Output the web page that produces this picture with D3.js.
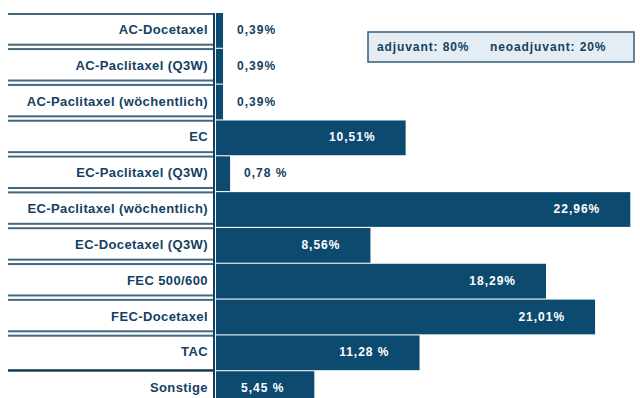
<!DOCTYPE html>
<html>
<head>
<meta charset="utf-8">
<script src="https://cdn.jsdelivr.net/npm/d3@7"></script>
<style>
  body { margin: 0; background: #fff; }
  svg { display: block; font-family: "Liberation Sans", Arial, sans-serif; }
</style>
</head>
<body>
<div id="chart"></div>
<script>
// regimen names, top to bottom
const categories = [
    "AC-Docetaxel",
    "AC-Paclitaxel (Q3W)",
    "AC-Paclitaxel (wöchentlich)",
    "EC",
    "EC-Paclitaxel (Q3W)",
    "EC-Paclitaxel (wöchentlich)",
    "EC-Docetaxel (Q3W)",
    "FEC 500/600",
    "FEC-Docetaxel",
    "TAC",
    "Sonstige"
];

// share in percent
const values = [0.39, 0.39, 0.39, 10.51, 0.78, 22.96, 8.56, 18.29, 21.01, 11.28, 5.45];

// labels as printed on the bars
const valueLabels = ["0,39%", "0,39%", "0,39%", "10,51%", "0,78 %", "22,96%", "8,56%", "18,29%", "21,01%", "11,28 %", "5,45 %"];

const legendItems = ["adjuvant: 80%", "neoadjuvant: 20%"];

const width = 640, height = 398;
const dark = "#0d4a70";
const textColor = "#143f62";
const lineColor = "#44697f";

const svg = d3.select("#chart")
    .append("svg")
    .attr("width", width)
    .attr("height", height);

const xScale = d3.scaleLinear()
    .domain([0, 23])
    .range([216, 631]);

const yScale = d3.scaleBand()
    .domain(categories)
    .range([13, 406])
    .paddingInner(0.03);

const step = yScale.step();
const gap = step * yScale.paddingInner();

// separator lines in the label column
const seps = svg.append("g");
seps.append("rect")
    .attr("x", 8).attr("width", 206)
    .attr("y", yScale(categories[0])).attr("height", 2)
    .attr("fill", lineColor);

categories.forEach((c, i) => {
    if (i === 0) return;
    let b = yScale(c) - gap / 2;
    if (c === "Sonstige") {
        seps.append("rect")
            .attr("x", 8).attr("width", 206)
            .attr("y", b - 1.5).attr("height", 2.5)
            .attr("fill", "#173c56");
    } else {
        [b - 4.6, b - 0.2].forEach(y => {
            seps.append("rect")
                .attr("x", 8).attr("width", 206)
                .attr("y", y).attr("height", 2)
                .attr("fill", lineColor);
        });
    }
});

// right border of label column
svg.append("rect")
    .attr("x", 213).attr("width", 2)
    .attr("y", yScale(categories[0])).attr("height", height)
    .attr("fill", textColor);

// bars
svg.selectAll(".bar")
    .data(values)
    .enter()
    .append("rect")
    .attr("class", "bar")
    .attr("x", xScale(0))
    .attr("y", (d, i) => yScale(categories[i]))
    .attr("width", d => xScale(d) - xScale(0))
    .attr("height", yScale.bandwidth())
    .attr("fill", dark);

// category labels
svg.selectAll(".cat")
    .data(categories)
    .enter()
    .append("text")
    .attr("class", "cat")
    .attr("x", 208)
    .attr("y", d => yScale(d) + 21)
    .attr("text-anchor", "end")
    .attr("font-size", "13px")
    .attr("font-weight", "bold")
    .attr("letter-spacing", "0.4px")
    .attr("fill", textColor)
    .text(d => d);

// value labels, inside long bars, outside short ones
svg.selectAll(".val")
    .data(values)
    .enter()
    .append("text")
    .attr("class", "val")
    .attr("x", d => d > 3 ? xScale(d) - 30 : xScale(d) + 14)
    .attr("y", (d, i) => yScale(categories[i]) + 21)
    .attr("text-anchor", d => d > 3 ? "end" : "start")
    .attr("font-size", "12px")
    .attr("font-weight", "bold")
    .attr("letter-spacing", "1px")
    .attr("fill", d => d > 3 ? "#fff" : textColor)
    .text((d, i) => valueLabels[i]);

// legend box
const legend = svg.append("g");
legend.append("rect")
    .attr("x", 368).attr("y", 32)
    .attr("width", 266).attr("height", 30)
    .attr("fill", "#e4edf4")
    .attr("stroke", "#355d78")
    .attr("stroke-width", 1.5);

legend.selectAll("text")
    .data(legendItems)
    .enter()
    .append("text")
    .attr("x", (d, i) => i === 0 ? 377 : 490)
    .attr("y", 51)
    .attr("font-size", "12px")
    .attr("font-weight", "bold")
    .attr("letter-spacing", "0.9px")
    .attr("fill", textColor)
    .text(d => d);
</script>
</body>
</html>
